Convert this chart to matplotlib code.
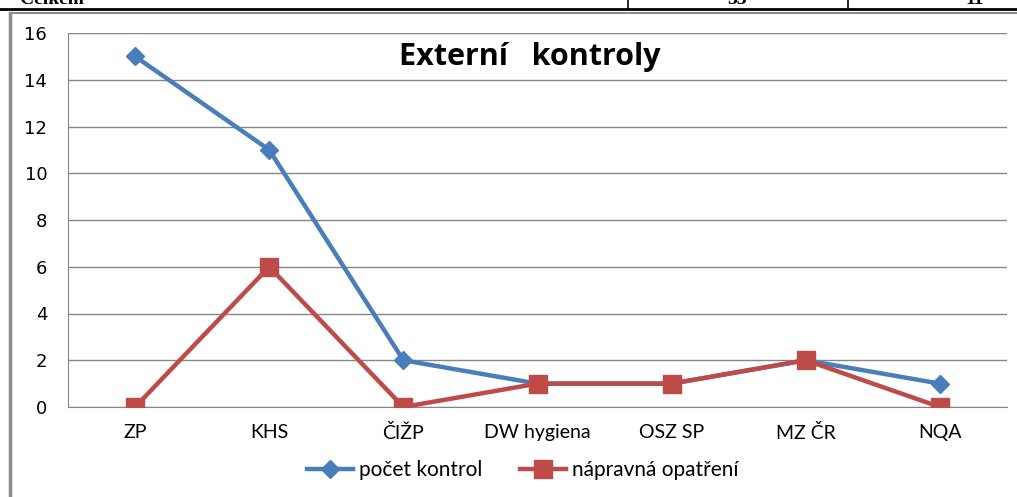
import matplotlib

matplotlib.use("Agg")
import matplotlib.pyplot as plt
from matplotlib.lines import Line2D

categories = ["ZP", "KHS", "ČIŽP", "DW hygiena", "OSZ SP", "MZ ČR", "NQA"]
pocet_kontrol = [15, 11, 2, 1, 1, 2, 1]
napravna_opatreni = [0, 6, 0, 1, 1, 2, 0]
y_ticks = list(range(0, 17, 2))

BLUE = "#4a7ebb"
RED = "#be4b48"
GRID = "#868686"

W, H = 1017, 497
fig = plt.figure(figsize=(W / 100, H / 100), dpi=100)

# zbytek tabulky nad grafem (v originale oriznuty)
fig.add_artist(Line2D([0, 1], [1 - 9 / H] * 2, color="black", lw=2))
for x in (628, 848):
    fig.add_artist(Line2D([x / W] * 2, [1 - 9 / H, 1], color="black", lw=1.2))
for tx, txt, ha in [(20, "Celkem", "left"), (737, "33", "center"), (975, "11", "center")]:
    fig.text(tx / W, 1 - 4 / H, txt, fontsize=14, fontweight="bold",
             family="Liberation Serif", va="baseline", ha=ha)

# ramecek grafu
fig.add_artist(Line2D([10 / W, 10 / W], [0, 1 - 13 / H], color="#8c8c8c", lw=2.5))
fig.add_artist(Line2D([10 / W, 1], [1 - 13 / H] * 2, color="#8c8c8c", lw=1.5))

ax = fig.add_axes([68 / W, 90 / H, (1007 - 68) / W, (407 - 33) / H])
x = range(len(categories))
ax.plot(x, pocet_kontrol, color=BLUE, lw=3.2, marker="D", ms=9,
        label="počet kontrol", zorder=3)
ax.plot(x, napravna_opatreni, color=RED, lw=3.2, marker="s", ms=13,
        label="nápravná opatření", zorder=4)

ax.set_xlim(-0.5, len(categories) - 0.5)
ax.set_ylim(0, 16)
ax.set_yticks(y_ticks)
ax.set_xticks(list(x))
ax.set_xticklabels(categories, family="Lato", fontsize=14)
ax.tick_params(axis="y", labelsize=13, length=0, pad=15)
ax.tick_params(axis="x", length=0, pad=12)
ax.grid(axis="y", color=GRID, lw=1)
ax.set_axisbelow(True)
for s in ("top", "right"):
    ax.spines[s].set_visible(False)
ax.spines["left"].set_color(GRID)
ax.spines["bottom"].set_color(GRID)

fig.text(530 / W, 1 - 57 / H, "Externí   kontroly", ha="center", va="center",
         fontsize=22, fontweight="bold", family="Open Sans")

fig.legend(loc="center", bbox_to_anchor=(523 / W, 1 - 470 / H), ncol=2,
           frameon=False, prop={"family": "Lato", "size": 15}, handlelength=2.2,
           handletextpad=0.3, columnspacing=1.8)

fig.savefig("out.png", dpi=100)
